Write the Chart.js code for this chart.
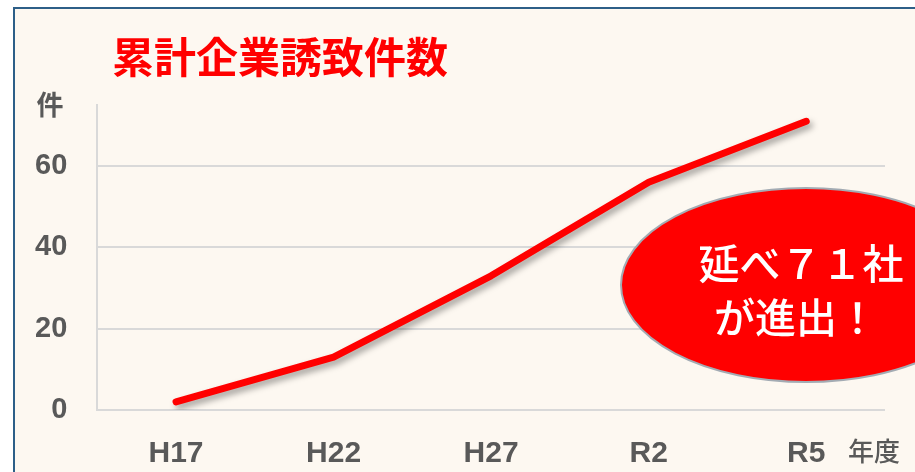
<!DOCTYPE html>
<html lang="ja">
<head>
<meta charset="utf-8">
<script src="https://cdn.jsdelivr.net/npm/chart.js@4"></script>
<style>
  html, body { margin: 0; padding: 0; background: #ffffff; }
  body { width: 915px; height: 472px; overflow: hidden; position: relative; }
  #frame {
    position: absolute; left: 13px; top: 7px; width: 1000px; height: 600px;
    border-left: 2px solid #2d5f88; border-top: 2px solid #2d5f88;
    background: #fdf8f1;
  }
  #wrap { position: absolute; left: 0; top: 0; width: 915px; height: 498px; }
</style>
</head>
<body>
<div id="frame"></div>
<div id="wrap"><canvas id="myChart" width="915" height="498"></canvas></div>
<script>
// 年度ごとの累計企業誘致件数
const years = ["H17", "H22", "H27", "R2", "R5"];
const counts = [2, 13, 33, 56, 71];
const yTicks = [0, 20, 40, 60];

const titleText = "累計企業誘致件数";
const yUnit = "件";
const xUnit = "年度";
const calloutLines = ["延べ７１社", "が進出！"];

const gray = "#595959";
const red = "#ff0000";

// 線の影
const shadowPlugin = {
  id: "lineShadow",
  beforeDatasetDraw(chart) {
    const ctx = chart.ctx;
    ctx.save();
    ctx.shadowColor = "rgba(0,0,0,0.35)";
    ctx.shadowBlur = 6;
    ctx.shadowOffsetX = 3;
    ctx.shadowOffsetY = 4;
  },
  afterDatasetDraw(chart) {
    chart.ctx.restore();
  }
};

// タイトル、単位、吹き出し
const decoPlugin = {
  id: "deco",
  afterDraw(chart) {
    const ctx = chart.ctx;
    ctx.save();

    ctx.fillStyle = red;
    ctx.font = "bold 42px 'Noto Sans CJK JP'";
    ctx.textAlign = "left";
    ctx.textBaseline = "middle";
    ctx.fillText(titleText, 112, 57);

    ctx.fillStyle = gray;
    ctx.font = "bold 27px 'Noto Sans CJK JP'";
    ctx.textAlign = "center";
    ctx.fillText(yUnit, 50, 105);

    ctx.font = "500 26px 'Noto Sans CJK JP'";
    ctx.textAlign = "left";
    ctx.fillText(xUnit, 848, 451);

    // 吹き出し
    ctx.beginPath();
    ctx.ellipse(806, 285, 185, 97, 0, 0, Math.PI * 2);
    ctx.fillStyle = red;
    ctx.fill();
    ctx.lineWidth = 2;
    ctx.strokeStyle = "#a3abb3";
    ctx.stroke();

    ctx.fillStyle = "#ffffff";
    ctx.font = "500 41px 'Noto Sans CJK JP'";
    ctx.textAlign = "center";
    ctx.fillText(calloutLines[0], 801, 263);
    ctx.fillText(calloutLines[1], 796, 317);
    ctx.restore();
  }
};

const config = {
  type: "line",
  data: {
    labels: years,
    datasets: [{
      data: counts,
      borderColor: red,
      borderWidth: 7,
      borderCapStyle: "round",
      borderJoinStyle: "round",
      pointRadius: 0,
      tension: 0,
      fill: false
    }]
  },
  options: {
    responsive: false,
    animation: false,
    layout: { padding: { left: 5, right: 30, top: 105, bottom: 0 } },
    plugins: {
      legend: { display: false },
      title: { display: false },
      tooltip: { enabled: false }
    },
    scales: {
      x: {
        offset: true,
        grid: { display: false, drawTicks: false },
        border: { display: false },
        ticks: {
          color: gray,
          padding: 26,
          font: { family: "'Liberation Sans', Arial", size: 30, weight: "bold" }
        }
      },
      y: {
        min: 0,
        max: 75,
        afterBuildTicks(scale) {
          scale.ticks = yTicks.map(v => ({ value: v }));
        },
        grid: { color: "#d9d9d9", lineWidth: 2, drawTicks: false },
        border: { display: true, color: "#d9d9d9", width: 2 },
        ticks: {
          color: gray,
          padding: 30,
          font: { family: "'Liberation Sans', Arial", size: 29, weight: "bold" }
        }
      }
    }
  },
  plugins: [shadowPlugin, decoPlugin]
};

const chart = document.querySelector("#myChart");
const myChart = new Chart(chart, config);
</script>
</body>
</html>
